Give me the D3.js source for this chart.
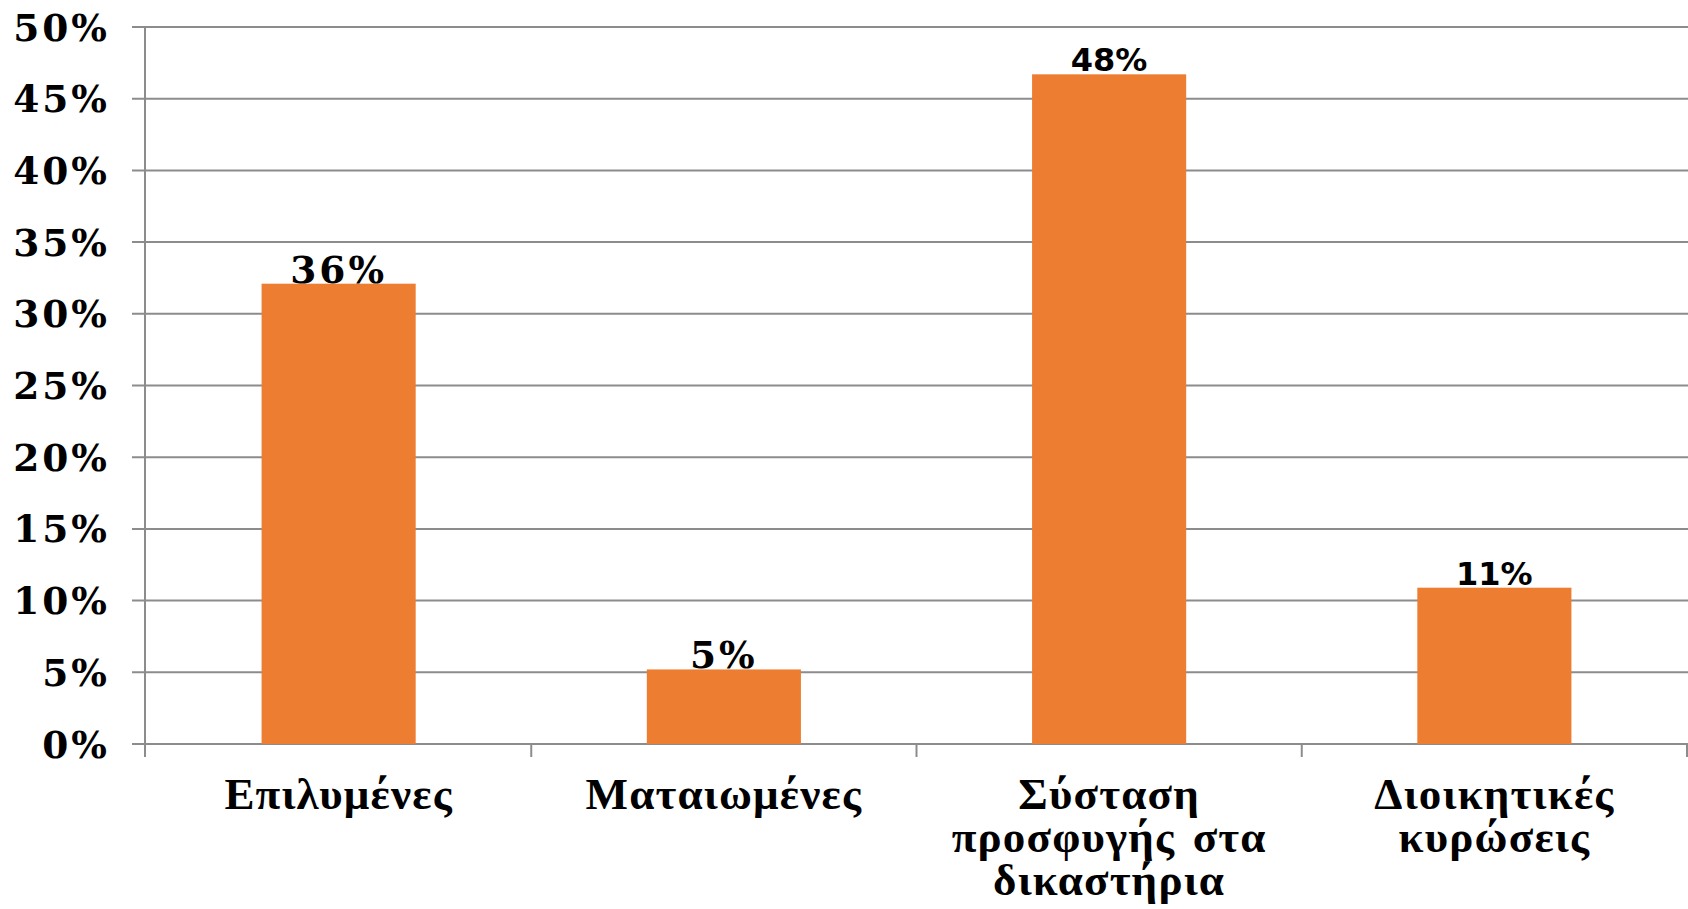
<!DOCTYPE html>
<html><head><meta charset="utf-8">
<script src="https://cdn.jsdelivr.net/npm/d3@7"></script>
<style>html,body{margin:0;padding:0;background:#fff;}svg{display:block;}</style>
</head><body>
<script>
const categories = ["Επιλυμένες", "Ματαιωμένες", "Σύσταση προσφυγής στα δικαστήρια", "Διοικητικές κυρώσεις"];
const categoryLines = [["Επιλυμένες"], ["Ματαιωμένες"], ["Σύσταση", "προσφυγής στα", "δικαστήρια"], ["Διοικητικές", "κυρώσεις"]];
const barValues = [0.321, 0.052, 0.467, 0.109];
const valueLabels = ["36%", "5%", "48%", "11%"];
const labelFonts = ["serif", "serif", "sans", "sans"];
const yTicks = [0, 0.05, 0.10, 0.15, 0.20, 0.25, 0.30, 0.35, 0.40, 0.45, 0.50];

const W = 1688, H = 909;
const svg = d3.select("body").append("svg").attr("width", W).attr("height", H);

const x = d3.scaleBand().domain(categories).range([146, 1687]).paddingInner(0.6).paddingOuter(0.3);
const y = d3.scaleLinear().domain([0, 0.5]).range([744, 27]);
const grid = "#8c8c8c";

// gridlines
svg.append("g").selectAll("line").data(yTicks).join("line")
  .attr("x1", 132).attr("x2", W).attr("y1", d => y(d)).attr("y2", d => y(d))
  .attr("stroke", grid).attr("stroke-width", 2);

// vertical axis
svg.append("line").attr("x1", 145).attr("x2", 145).attr("y1", y(0.5)).attr("y2", 757)
  .attr("stroke", grid).attr("stroke-width", 2);

// x ticks at band boundaries
const step = x.step();
const bounds = d3.range(categories.length + 1).map(i => 146 + i * step);
svg.append("g").selectAll("line").data(bounds.slice(1)).join("line")
  .attr("x1", d => Math.min(d, W - 1)).attr("x2", d => Math.min(d, W - 1))
  .attr("y1", y(0)).attr("y2", 757).attr("stroke", grid).attr("stroke-width", 2);

// y labels
svg.append("g").selectAll("text").data(yTicks).join("text")
  .attr("x", 110).attr("y", d => y(d)).attr("dy", "0.36em")
  .attr("text-anchor", "end")
  .style("font-family", "'DejaVu Serif'").style("font-weight", "bold")
  .style("font-size", "37.5px").style("letter-spacing", "3px")
  .attr("fill", "#000")
  .text(d => d3.format(".0%")(d));

// bars
svg.append("g").selectAll("rect").data(categories).join("rect")
  .attr("x", d => x(d)).attr("width", x.bandwidth())
  .attr("y", (d, i) => y(barValues[i])).attr("height", (d, i) => y(0) - y(barValues[i]))
  .attr("fill", "#ED7D31");

// value labels
svg.append("g").selectAll("text").data(categories).join("text")
  .attr("x", d => x(d) + x.bandwidth() / 2)
  .attr("y", (d, i) => y(barValues[i]) - (labelFonts[i] === "serif" ? 1 : 3))
  .attr("text-anchor", "middle")
  .style("font-family", (d, i) => labelFonts[i] === "serif" ? "'DejaVu Serif'" : "'DejaVu Sans'")
  .style("font-weight", "bold")
  .style("font-size", (d, i) => labelFonts[i] === "serif" ? "37.5px" : "32px")
  .style("letter-spacing", (d, i) => labelFonts[i] === "serif" ? "3px" : "0px")
  .attr("fill", "#000")
  .text((d, i) => valueLabels[i]);

// category labels
const cg = svg.append("g").selectAll("text").data(categories).join("text")
  .attr("x", d => x(d) + x.bandwidth() / 2)
  .attr("y", 809)
  .attr("text-anchor", "middle")
  .style("font-family", "'Liberation Serif'").style("font-weight", "bold")
  .style("font-size", "45px").style("letter-spacing", "1.2px").style("word-spacing", "5px")
  .attr("fill", "#000");
cg.each(function(d, i) {
  const t = d3.select(this);
  categoryLines[i].forEach((ln, j) => {
    t.append("tspan").attr("x", x(d) + x.bandwidth() / 2).attr("y", 809 + j * 43).text(ln);
  });
});
</script>
</body></html>
